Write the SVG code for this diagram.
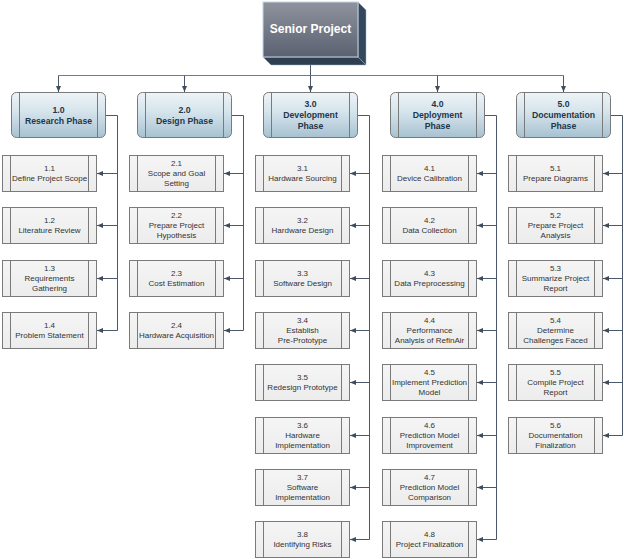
<svg xmlns="http://www.w3.org/2000/svg" width="624" height="559" viewBox="0 0 624 559">
<defs>
<linearGradient id="gPhase" x1="0" y1="0" x2="0" y2="1">
<stop offset="0" stop-color="#eef4f7"/>
<stop offset="0.45" stop-color="#d4e3eb"/>
<stop offset="1" stop-color="#a7c1d1"/>
</linearGradient>
<linearGradient id="gTop" x1="0" y1="0" x2="0" y2="1">
<stop offset="0" stop-color="#8e939d"/>
<stop offset="1" stop-color="#5b6171"/>
</linearGradient>
<linearGradient id="gTask" x1="0" y1="0" x2="0" y2="1">
<stop offset="0" stop-color="#f5f5f5"/>
<stop offset="1" stop-color="#ececec"/>
</linearGradient>
<marker id="arr" markerWidth="6" markerHeight="6" refX="6" refY="3" orient="auto" markerUnits="userSpaceOnUse">
<path d="M0,0.5 L6,3 L0,5.5 z" fill="#3e4c5c"/>
</marker>
</defs>
<style>
.task rect{fill:url(#gTask);stroke:#7a7a7a;stroke-width:1}
.task line{stroke:#7a7a7a;stroke-width:1}
.task text{font-family:"Liberation Sans",Arial,sans-serif;font-size:8px;fill:#333;text-anchor:middle}
.phase rect{fill:url(#gPhase);stroke:#7a7a7a;stroke-width:1}
.phase line{stroke:#7a7a7a;stroke-width:1}
.phase text{font-family:"Liberation Sans",Arial,sans-serif;font-size:8.7px;font-weight:bold;fill:#23364a;text-anchor:middle}
.con{fill:none;stroke:#4a5869;stroke-width:1}
.top{fill:none;stroke:#6f7c8a;stroke-width:1}
.arrow{fill:none;stroke:#4a5869;stroke-width:1;marker-end:url(#arr)}
</style>
<rect width="624" height="559" fill="#ffffff"/>

<g id="connectors">
<path class="top" d="M58.5,75.5 H563.5"/>
<path class="con" d="M310.5,65 V75.5"/>
<path class="arrow" d="M58.5,75.5 V92"/>
<path class="arrow" d="M184.5,75.5 V92"/>
<path class="arrow" d="M310.5,75.5 V92"/>
<path class="arrow" d="M437.5,75.5 V92"/>
<path class="arrow" d="M563.5,75.5 V92"/>

<path class="con" d="M106,115.5 H117.5 V330.5"/>
<path class="arrow" d="M117.5,173.5 H97"/>
<path class="arrow" d="M117.5,225.5 H97"/>
<path class="arrow" d="M117.5,278.5 H97"/>
<path class="arrow" d="M117.5,330.5 H97"/>

<path class="con" d="M232,115.5 H243.5 V330.5"/>
<path class="arrow" d="M243.5,173.5 H224"/>
<path class="arrow" d="M243.5,225.5 H224"/>
<path class="arrow" d="M243.5,278.5 H224"/>
<path class="arrow" d="M243.5,330.5 H224"/>

<path class="con" d="M358,115.5 H369.5 V539.5"/>
<path class="arrow" d="M369.5,173.5 H350"/>
<path class="arrow" d="M369.5,225.5 H350"/>
<path class="arrow" d="M369.5,278.5 H350"/>
<path class="arrow" d="M369.5,330.5 H350"/>
<path class="arrow" d="M369.5,382.5 H350"/>
<path class="arrow" d="M369.5,435.5 H350"/>
<path class="arrow" d="M369.5,487.5 H350"/>
<path class="arrow" d="M369.5,539.5 H350"/>

<path class="con" d="M485,115.5 H496.5 V539.5"/>
<path class="arrow" d="M496.5,173.5 H477"/>
<path class="arrow" d="M496.5,225.5 H477"/>
<path class="arrow" d="M496.5,278.5 H477"/>
<path class="arrow" d="M496.5,330.5 H477"/>
<path class="arrow" d="M496.5,382.5 H477"/>
<path class="arrow" d="M496.5,435.5 H477"/>
<path class="arrow" d="M496.5,487.5 H477"/>
<path class="arrow" d="M496.5,539.5 H477"/>

<path class="con" d="M611,115.5 H622.5 V435.5"/>
<path class="arrow" d="M622.5,173.5 H603"/>
<path class="arrow" d="M622.5,225.5 H603"/>
<path class="arrow" d="M622.5,278.5 H603"/>
<path class="arrow" d="M622.5,330.5 H603"/>
<path class="arrow" d="M622.5,382.5 H603"/>
<path class="arrow" d="M622.5,435.5 H603"/>
</g>

<g id="senior-project">
<polygon points="358,2 366,10 366,65 358,57" fill="#34475c" stroke="#9fb3c6" stroke-width="0.5"/>
<polygon points="263,57 358,57 366,65 271,65" fill="#2f3f52" stroke="#9fb3c6" stroke-width="0.5"/>
<rect x="263" y="2" width="95" height="55" fill="url(#gTop)" stroke="#c5d5e3" stroke-width="1"/>
<text x="310.5" y="33" font-family="'Liberation Sans',Arial,sans-serif" font-size="12" font-weight="bold" fill="#ffffff" text-anchor="middle">Senior Project</text>
</g>

<g id="phase-1" class="phase">
<rect x="11.5" y="92.5" width="94" height="45" rx="5"/>
<line x1="19.5" y1="92.5" x2="19.5" y2="137.5"/><line x1="97.5" y1="92.5" x2="97.5" y2="137.5"/>
<text x="58.5" y="112.5">1.0</text><text x="58.5" y="123.5">Research Phase</text>
</g>
<g id="phase-2" class="phase">
<rect x="137.5" y="92.5" width="94" height="45" rx="5"/>
<line x1="145.5" y1="92.5" x2="145.5" y2="137.5"/><line x1="223.5" y1="92.5" x2="223.5" y2="137.5"/>
<text x="184.5" y="112.5">2.0</text><text x="184.5" y="123.5">Design Phase</text>
</g>
<g id="phase-3" class="phase">
<rect x="263.5" y="92.5" width="94" height="45" rx="5"/>
<line x1="271.5" y1="92.5" x2="271.5" y2="137.5"/><line x1="349.5" y1="92.5" x2="349.5" y2="137.5"/>
<text x="310.5" y="107">3.0</text><text x="310.5" y="118">Development</text><text x="310.5" y="129">Phase</text>
</g>
<g id="phase-4" class="phase">
<rect x="390.5" y="92.5" width="94" height="45" rx="5"/>
<line x1="398.5" y1="92.5" x2="398.5" y2="137.5"/><line x1="476.5" y1="92.5" x2="476.5" y2="137.5"/>
<text x="437.5" y="107">4.0</text><text x="437.5" y="118">Deployment</text><text x="437.5" y="129">Phase</text>
</g>
<g id="phase-5" class="phase">
<rect x="516.5" y="92.5" width="94" height="45" rx="5"/>
<line x1="524.5" y1="92.5" x2="524.5" y2="137.5"/><line x1="602.5" y1="92.5" x2="602.5" y2="137.5"/>
<text x="563.5" y="107">5.0</text><text x="563.5" y="118">Documentation</text><text x="563.5" y="129">Phase</text>
</g>

<!-- Column 1 -->
<g id="task-1-1" class="task"><rect x="2.5" y="155.5" width="94" height="36"/><line x1="10.5" y1="155.5" x2="10.5" y2="191.5"/><line x1="88.5" y1="155.5" x2="88.5" y2="191.5"/><text x="49.5" y="171">1.1</text><text x="49.5" y="181">Define Project Scope</text></g>
<g id="task-1-2" class="task"><rect x="2.5" y="207.5" width="94" height="36"/><line x1="10.5" y1="207.5" x2="10.5" y2="243.5"/><line x1="88.5" y1="207.5" x2="88.5" y2="243.5"/><text x="49.5" y="223">1.2</text><text x="49.5" y="233">Literature Review</text></g>
<g id="task-1-3" class="task"><rect x="2.5" y="260.5" width="94" height="36"/><line x1="10.5" y1="260.5" x2="10.5" y2="296.5"/><line x1="88.5" y1="260.5" x2="88.5" y2="296.5"/><text x="49.5" y="271">1.3</text><text x="49.5" y="281">Requirements</text><text x="49.5" y="291">Gathering</text></g>
<g id="task-1-4" class="task"><rect x="2.5" y="312.5" width="94" height="36"/><line x1="10.5" y1="312.5" x2="10.5" y2="348.5"/><line x1="88.5" y1="312.5" x2="88.5" y2="348.5"/><text x="49.5" y="328">1.4</text><text x="49.5" y="338">Problem Statement</text></g>

<!-- Column 2 -->
<g id="task-2-1" class="task"><rect x="129.5" y="155.5" width="94" height="36"/><line x1="137.5" y1="155.5" x2="137.5" y2="191.5"/><line x1="215.5" y1="155.5" x2="215.5" y2="191.5"/><text x="176.5" y="166">2.1</text><text x="176.5" y="176">Scope and Goal</text><text x="176.5" y="186">Setting</text></g>
<g id="task-2-2" class="task"><rect x="129.5" y="207.5" width="94" height="36"/><line x1="137.5" y1="207.5" x2="137.5" y2="243.5"/><line x1="215.5" y1="207.5" x2="215.5" y2="243.5"/><text x="176.5" y="218">2.2</text><text x="176.5" y="228">Prepare Project</text><text x="176.5" y="238">Hypothesis</text></g>
<g id="task-2-3" class="task"><rect x="129.5" y="260.5" width="94" height="36"/><line x1="137.5" y1="260.5" x2="137.5" y2="296.5"/><line x1="215.5" y1="260.5" x2="215.5" y2="296.5"/><text x="176.5" y="276">2.3</text><text x="176.5" y="286">Cost Estimation</text></g>
<g id="task-2-4" class="task"><rect x="129.5" y="312.5" width="94" height="36"/><line x1="137.5" y1="312.5" x2="137.5" y2="348.5"/><line x1="215.5" y1="312.5" x2="215.5" y2="348.5"/><text x="176.5" y="328">2.4</text><text x="176.5" y="338">Hardware Acquisition</text></g>

<!-- Column 3 -->
<g id="task-3-1" class="task"><rect x="255.5" y="155.5" width="94" height="36"/><line x1="263.5" y1="155.5" x2="263.5" y2="191.5"/><line x1="341.5" y1="155.5" x2="341.5" y2="191.5"/><text x="302.5" y="171">3.1</text><text x="302.5" y="181">Hardware Sourcing</text></g>
<g id="task-3-2" class="task"><rect x="255.5" y="207.5" width="94" height="36"/><line x1="263.5" y1="207.5" x2="263.5" y2="243.5"/><line x1="341.5" y1="207.5" x2="341.5" y2="243.5"/><text x="302.5" y="223">3.2</text><text x="302.5" y="233">Hardware Design</text></g>
<g id="task-3-3" class="task"><rect x="255.5" y="260.5" width="94" height="36"/><line x1="263.5" y1="260.5" x2="263.5" y2="296.5"/><line x1="341.5" y1="260.5" x2="341.5" y2="296.5"/><text x="302.5" y="276">3.3</text><text x="302.5" y="286">Software Design</text></g>
<g id="task-3-4" class="task"><rect x="255.5" y="312.5" width="94" height="36"/><line x1="263.5" y1="312.5" x2="263.5" y2="348.5"/><line x1="341.5" y1="312.5" x2="341.5" y2="348.5"/><text x="302.5" y="323">3.4</text><text x="302.5" y="333">Establish</text><text x="302.5" y="343">Pre-Prototype</text></g>
<g id="task-3-5" class="task"><rect x="255.5" y="364.5" width="94" height="36"/><line x1="263.5" y1="364.5" x2="263.5" y2="400.5"/><line x1="341.5" y1="364.5" x2="341.5" y2="400.5"/><text x="302.5" y="380">3.5</text><text x="302.5" y="390">Redesign Prototype</text></g>
<g id="task-3-6" class="task"><rect x="255.5" y="417.5" width="94" height="36"/><line x1="263.5" y1="417.5" x2="263.5" y2="453.5"/><line x1="341.5" y1="417.5" x2="341.5" y2="453.5"/><text x="302.5" y="428">3.6</text><text x="302.5" y="438">Hardware</text><text x="302.5" y="448">Implementation</text></g>
<g id="task-3-7" class="task"><rect x="255.5" y="469.5" width="94" height="36"/><line x1="263.5" y1="469.5" x2="263.5" y2="505.5"/><line x1="341.5" y1="469.5" x2="341.5" y2="505.5"/><text x="302.5" y="480">3.7</text><text x="302.5" y="490">Software</text><text x="302.5" y="500">Implementation</text></g>
<g id="task-3-8" class="task"><rect x="255.5" y="521.5" width="94" height="36"/><line x1="263.5" y1="521.5" x2="263.5" y2="557.5"/><line x1="341.5" y1="521.5" x2="341.5" y2="557.5"/><text x="302.5" y="537">3.8</text><text x="302.5" y="547">Identifying Risks</text></g>

<!-- Column 4 -->
<g id="task-4-1" class="task"><rect x="382.5" y="155.5" width="94" height="36"/><line x1="390.5" y1="155.5" x2="390.5" y2="191.5"/><line x1="468.5" y1="155.5" x2="468.5" y2="191.5"/><text x="429.5" y="171">4.1</text><text x="429.5" y="181">Device Calibration</text></g>
<g id="task-4-2" class="task"><rect x="382.5" y="207.5" width="94" height="36"/><line x1="390.5" y1="207.5" x2="390.5" y2="243.5"/><line x1="468.5" y1="207.5" x2="468.5" y2="243.5"/><text x="429.5" y="223">4.2</text><text x="429.5" y="233">Data Collection</text></g>
<g id="task-4-3" class="task"><rect x="382.5" y="260.5" width="94" height="36"/><line x1="390.5" y1="260.5" x2="390.5" y2="296.5"/><line x1="468.5" y1="260.5" x2="468.5" y2="296.5"/><text x="429.5" y="276">4.3</text><text x="429.5" y="286">Data Preprocessing</text></g>
<g id="task-4-4" class="task"><rect x="382.5" y="312.5" width="94" height="36"/><line x1="390.5" y1="312.5" x2="390.5" y2="348.5"/><line x1="468.5" y1="312.5" x2="468.5" y2="348.5"/><text x="429.5" y="323">4.4</text><text x="429.5" y="333">Performance</text><text x="429.5" y="343">Analysis of RefinAir</text></g>
<g id="task-4-5" class="task"><rect x="382.5" y="364.5" width="94" height="36"/><line x1="390.5" y1="364.5" x2="390.5" y2="400.5"/><line x1="468.5" y1="364.5" x2="468.5" y2="400.5"/><text x="429.5" y="375">4.5</text><text x="429.5" y="385">Implement Prediction</text><text x="429.5" y="395">Model</text></g>
<g id="task-4-6" class="task"><rect x="382.5" y="417.5" width="94" height="36"/><line x1="390.5" y1="417.5" x2="390.5" y2="453.5"/><line x1="468.5" y1="417.5" x2="468.5" y2="453.5"/><text x="429.5" y="428">4.6</text><text x="429.5" y="438">Prediction Model</text><text x="429.5" y="448">Improvement</text></g>
<g id="task-4-7" class="task"><rect x="382.5" y="469.5" width="94" height="36"/><line x1="390.5" y1="469.5" x2="390.5" y2="505.5"/><line x1="468.5" y1="469.5" x2="468.5" y2="505.5"/><text x="429.5" y="480">4.7</text><text x="429.5" y="490">Prediction Model</text><text x="429.5" y="500">Comparison</text></g>
<g id="task-4-8" class="task"><rect x="382.5" y="521.5" width="94" height="36"/><line x1="390.5" y1="521.5" x2="390.5" y2="557.5"/><line x1="468.5" y1="521.5" x2="468.5" y2="557.5"/><text x="429.5" y="537">4.8</text><text x="429.5" y="547">Project Finalization</text></g>

<!-- Column 5 -->
<g id="task-5-1" class="task"><rect x="508.5" y="155.5" width="94" height="36"/><line x1="516.5" y1="155.5" x2="516.5" y2="191.5"/><line x1="594.5" y1="155.5" x2="594.5" y2="191.5"/><text x="555.5" y="171">5.1</text><text x="555.5" y="181">Prepare Diagrams</text></g>
<g id="task-5-2" class="task"><rect x="508.5" y="207.5" width="94" height="36"/><line x1="516.5" y1="207.5" x2="516.5" y2="243.5"/><line x1="594.5" y1="207.5" x2="594.5" y2="243.5"/><text x="555.5" y="218">5.2</text><text x="555.5" y="228">Prepare Project</text><text x="555.5" y="238">Analysis</text></g>
<g id="task-5-3" class="task"><rect x="508.5" y="260.5" width="94" height="36"/><line x1="516.5" y1="260.5" x2="516.5" y2="296.5"/><line x1="594.5" y1="260.5" x2="594.5" y2="296.5"/><text x="555.5" y="271">5.3</text><text x="555.5" y="281">Summarize Project</text><text x="555.5" y="291">Report</text></g>
<g id="task-5-4" class="task"><rect x="508.5" y="312.5" width="94" height="36"/><line x1="516.5" y1="312.5" x2="516.5" y2="348.5"/><line x1="594.5" y1="312.5" x2="594.5" y2="348.5"/><text x="555.5" y="323">5.4</text><text x="555.5" y="333">Determine</text><text x="555.5" y="343">Challenges Faced</text></g>
<g id="task-5-5" class="task"><rect x="508.5" y="364.5" width="94" height="36"/><line x1="516.5" y1="364.5" x2="516.5" y2="400.5"/><line x1="594.5" y1="364.5" x2="594.5" y2="400.5"/><text x="555.5" y="375">5.5</text><text x="555.5" y="385">Compile Project</text><text x="555.5" y="395">Report</text></g>
<g id="task-5-6" class="task"><rect x="508.5" y="417.5" width="94" height="36"/><line x1="516.5" y1="417.5" x2="516.5" y2="453.5"/><line x1="594.5" y1="417.5" x2="594.5" y2="453.5"/><text x="555.5" y="428">5.6</text><text x="555.5" y="438">Documentation</text><text x="555.5" y="448">Finalization</text></g>
</svg>
